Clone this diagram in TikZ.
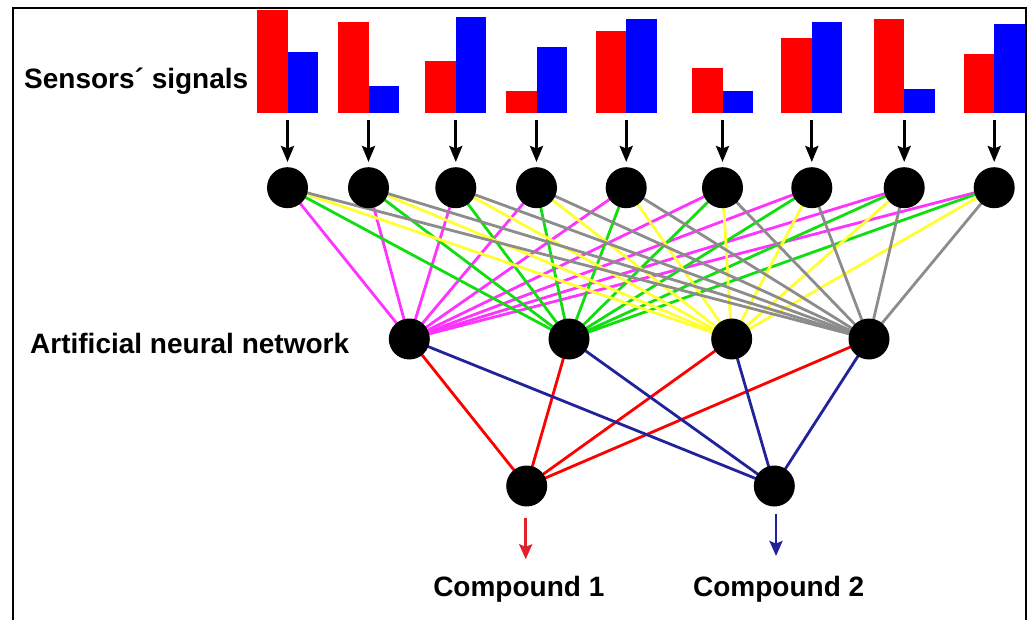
\documentclass[tikz,border=0pt]{standalone}
\usepackage{fontspec}
\setmainfont{Liberation Sans}
\usetikzlibrary{arrows.meta}
\pgfdeclarelayer{bg}
\pgfsetlayers{bg,main}

\definecolor{barred}{RGB}{255,0,0}
\definecolor{barblue}{RGB}{0,0,255}
\definecolor{linkmag}{RGB}{255,51,255}
\definecolor{linkgreen}{RGB}{17,221,17}
\definecolor{linkyellow}{RGB}{255,255,51}
\definecolor{linkgray}{RGB}{140,140,140}
\definecolor{outred}{RGB}{255,0,0}
\definecolor{outblue}{RGB}{34,34,154}
\definecolor{arrred}{RGB}{224,32,42}

\tikzset{
  neuron/.style={circle, fill=black, minimum size=41pt, inner sep=0pt},
  caption/.style={font=\bfseries\fontsize{28}{30}\selectfont, inner sep=0pt},
  link/.style={line width=2.8pt},
  feed/.style={line width=2.7pt, -{Stealth[length=16pt,width=13pt,inset=2.5pt]}},
  result/.style={line width=2.7pt, -{Stealth[length=15pt,width=13pt,inset=2.5pt]}},
}

\begin{document}
\begin{tikzpicture}[x=1pt,y=-1pt]
\useasboundingbox (0,0) rectangle (1033,620);

% outer frame (bottom edge lies below the page)
\draw[line width=2pt] (13,620) -- (13,8) -- (1025.5,8) -- (1025.5,620);

% sensor bar pairs, input neurons and feed arrows
\foreach \xl/\rt/\bt [count=\i] in {257/9.7/52, 338/22.3/85.7, 425.3/61/17.3,
    506/90.7/47, 595.7/31.3/19, 692/68.3/90.7, 781.3/38/22.3, 873.7/19/89, 963.7/54/24}
{
  \fill[barred] (\xl,113.5) rectangle ({\xl+30.5},\rt);
  \fill[barblue] ({\xl+30.5},113.5) rectangle ({\xl+61},\bt);
  \coordinate (s\i) at ({\xl+30.5},120);
  \node[neuron] (i\i) at ({\xl+30.5},187.7) {};
  \draw[feed, shorten >=5pt] (s\i) -- (i\i.north);
}

% hidden layer
\node[neuron] (h1) at (409.3,339) {};
\node[neuron] (h2) at (569,339) {};
\node[neuron] (h3) at (731.7,339) {};
\node[neuron] (h4) at (869,339) {};

% output layer
\node[neuron] (o1) at (526.7,486) {};
\node[neuron] (o2) at (774.3,486) {};

% input -> hidden weights
\begin{pgfonlayer}{bg}
\foreach \j/\col in {1/linkmag, 2/linkgreen, 3/linkyellow, 4/linkgray}
  \foreach \i in {1,...,9}
    \draw[link, \col] (i\i.center) -- (h\j.center);
% hidden -> output weights
\foreach \j in {1,...,4}
  \draw[link, outred] (h\j.center) -- (o1.center);
\foreach \j in {1,...,4}
  \draw[link, outblue] (h\j.center) -- (o2.center);
\end{pgfonlayer}

% labels
\node[caption, anchor=base west] (sig) at (24,88.3) {Sensors´ signals};
\node[caption, anchor=base west] (ann) at (30,353.3) {Artificial neural network};
\node[caption, anchor=base] (c1) at (518.8,596.7) {Compound 1};
\node[caption, anchor=base] (c2) at (778.7,596.7) {Compound 2};

% output arrows
\coordinate (a1) at (525.7,518.3);
\coordinate (a2) at (776,514);
\draw[result, arrred] (a1) -- ++(0,41);
\draw[result, outblue] (a2) -- ++(0,42);
\end{tikzpicture}
\end{document}
